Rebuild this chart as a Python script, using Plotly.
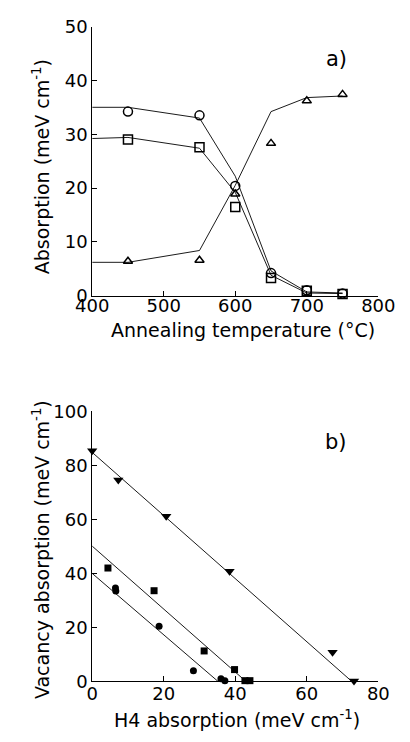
import plotly.graph_objects as go

# ---------- Panel a) data ----------
temp = [450, 550, 600, 650, 700, 750]
circle_vals = [34.2, 33.5, 20.4, 4.2, 1.0, 0.4]
square_vals = [29.0, 27.6, 16.5, 3.3, 0.9, 0.3]
triangle_vals = [6.4, 6.6, 18.9, 28.3, 36.2, 37.4]

fit_temp = [400, 450, 550, 600, 650, 700, 750]
circle_fit = [35.0, 35.0, 33.0, 22.2, 4.6, 0.7, 0.5]
square_fit = [29.2, 29.4, 27.4, 19.2, 3.8, 0.5, 0.4]
triangle_fit = [6.2, 6.2, 8.4, 20.5, 34.2, 36.8, 37.1]

# ---------- Panel b) data ----------
tri_h4 = [0.0, 7.3, 20.7, 38.4, 67.2, 73.2]
tri_vac = [85.4, 74.6, 61.2, 40.8, 10.8, 0.2]
sq_h4 = [4.4, 17.3, 31.3, 39.8, 42.7, 44.1]
sq_vac = [42.0, 33.6, 11.3, 4.4, 0.3, 0.3]
ci_h4 = [6.5, 6.6, 18.7, 28.3, 36.0, 37.1]
ci_vac = [34.6, 33.5, 20.4, 4.0, 1.0, 0.3]

tri_fit_x = [0.0, 72.6]
tri_fit_y = [84.8, 0.0]
sq_fit_x = [0.0, 43.0]
sq_fit_y = [50.1, 0.0]
ci_fit_x = [0.0, 35.2]
ci_fit_y = [40.0, 0.0]

FONT = "DejaVu Sans, Liberation Sans, sans-serif"
LINE = dict(color="black", width=0.9)

fig = go.Figure()

# Panel a) fits
for fy in (circle_fit, square_fit, triangle_fit):
    fig.add_trace(go.Scatter(x=fit_temp, y=fy, mode="lines", line=LINE,
                             xaxis="x", yaxis="y", showlegend=False, cliponaxis=False))
# Panel a) markers
for vals, sym, sz in ((circle_vals, "circle-open", 9),
                      (square_vals, "square-open", 9),
                      (triangle_vals, "triangle-up-open", 8)):
    fig.add_trace(go.Scatter(x=temp, y=vals, mode="markers",
                             marker=dict(symbol=sym, size=sz, color="black",
                                         line=dict(color="black", width=1.5)),
                             xaxis="x", yaxis="y", showlegend=False, cliponaxis=False))

# Panel b) fits
for fx, fy in ((tri_fit_x, tri_fit_y), (sq_fit_x, sq_fit_y), (ci_fit_x, ci_fit_y)):
    fig.add_trace(go.Scatter(x=fx, y=fy, mode="lines", line=LINE,
                             xaxis="x2", yaxis="y2", showlegend=False, cliponaxis=False))
# Panel b) markers
for xs, ys, sym, sz in ((tri_h4, tri_vac, "triangle-down", 9),
                        (sq_h4, sq_vac, "square", 7),
                        (ci_h4, ci_vac, "circle", 7)):
    fig.add_trace(go.Scatter(x=xs, y=ys, mode="markers",
                             marker=dict(symbol=sym, size=sz, color="black",
                                         line=dict(width=0)),
                             xaxis="x2", yaxis="y2", showlegend=False, cliponaxis=False))

axis_common = dict(showline=True, linecolor="black", linewidth=1, ticks="inside",
                   ticklen=5, tickcolor="black", tickwidth=1, showgrid=False,
                   zeroline=False, tickfont=dict(family=FONT, size=18, color="black"))

xd = [82 / 410, 394 / 410]
fig.update_layout(
    width=410, height=742,
    margin=dict(l=0, r=0, t=0, b=0),
    paper_bgcolor="white", plot_bgcolor="white",
    xaxis=dict(domain=xd, range=[400, 800], tickvals=[400, 500, 600, 700, 800],
               anchor="y", ticklabelstandoff=-6, **axis_common),
    yaxis=dict(domain=[(742 - 293) / 742, (742 - 16) / 742], range=[0, 50],
               tickvals=[0, 10, 20, 30, 40, 50], anchor="x", **axis_common),
    xaxis2=dict(domain=xd, range=[0, 80], tickvals=[0, 20, 40, 60, 80],
                anchor="y2", ticklabelstandoff=-4, **axis_common),
    yaxis2=dict(domain=[(742 - 690) / 742, (742 - 412) / 742], range=[0, 100],
                tickvals=[0, 20, 40, 60, 80, 100], anchor="x2", **axis_common),
)

def ann(text, x, y, size=19, angle=0):
    fig.add_annotation(text=text, x=x / 410, y=1 - y / 742, xref="paper", yref="paper",
                       showarrow=False, textangle=angle, xanchor="center", yanchor="middle",
                       font=dict(family=FONT, size=size, color="black"))

ann("a)", 348, 49, size=21)
ann("b)", 348, 444, size=21)
ann("Annealing temperature (°C)", 246, 328)
ann("H4 absorption (meV cm<sup>-1</sup>)", 240, 729)
ann("Absorption (meV cm<sup>-1</sup>)", 27, 160, angle=-90)
ann("Vacancy absorption (meV cm<sup>-1</sup>)", 27, 554, angle=-90)

fig.write_html("out.html")
